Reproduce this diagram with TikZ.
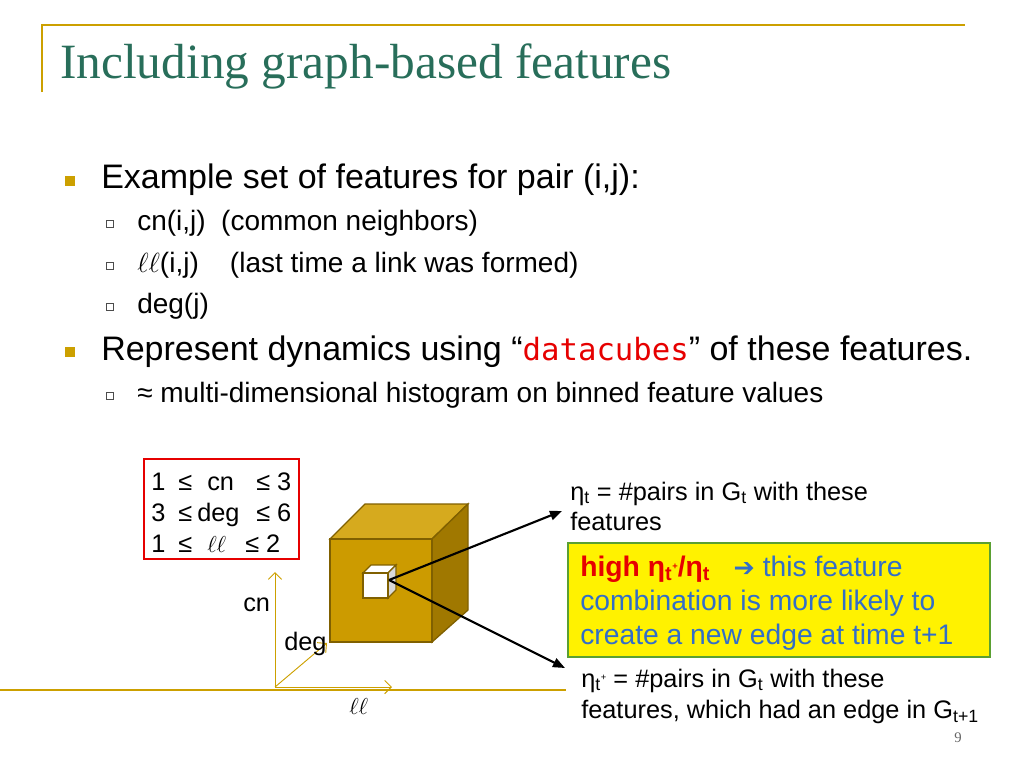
\documentclass[tikz,border=0pt]{standalone}
\usepackage{fontspec}
\setmainfont{Liberation Sans}
\newfontfamily\titlefont{Liberation Serif}
\newfontfamily\djv{DejaVu Sans}
\newfontfamily\dmono{DejaVu Sans Mono}
\usetikzlibrary{arrows.meta}
\definecolor{gold}{RGB}{204,160,0}
\definecolor{cubefront}{RGB}{204,155,0}
\definecolor{cubetop}{RGB}{214,170,30}
\definecolor{cubeside}{RGB}{160,120,0}
\definecolor{titlecol}{RGB}{40,110,90}
\definecolor{boxgreen}{RGB}{90,160,50}
\definecolor{dred}{RGB}{230,0,0}
\definecolor{bluetext}{RGB}{50,110,200}
\newcommand{\mysup}[1]{\raisebox{0.45ex}{\scriptsize #1}}
\begin{document}
\begin{tikzpicture}[x=0.75pt,y=-0.75pt,
  t/.style={anchor=base west,inner sep=0pt},
  main/.style={t,font=\fontsize{25.5}{30}\selectfont},
  sub/.style={t,font=\fontsize{21}{25}\selectfont},
  lbl/.style={t,font=\fontsize{19}{22}\selectfont},
  gb/.style={t,font=\fontsize{21.2}{25}\selectfont},
  bul/.style={fill=gold,minimum size=7pt,inner sep=0pt},
  sbul/.style={draw=black!70,line width=0.5pt,minimum size=5pt,inner sep=0pt,fill=white},
  ax/.style={gold,line width=0.7pt,-{Straight Barb[length=5pt]}},
  arr/.style={line width=1.6pt,-{Triangle[length=9pt,width=7pt]}}]
\useasboundingbox (0,0) rectangle (1024,768);
\draw[gold,line width=1pt] (42,92) -- (42,25) -- (965,25);
\node[t,text=titlecol,font=\titlefont\fontsize{37}{40}\selectfont] (title) at (60,78) {Including graph-based features};
% bullets
\node[bul] (b1) at (70,181) {};
\node[main] (l1) at (101,188) {Example set of features for pair (i,j):};
\node[sbul] (s1) at (110,224) {};
\node[sub] (l2) at (137,230) {cn(i,j)\ \ (common neighbors)};
\node[sbul] (s2) at (110,266) {};
\node[sub] (l3) at (137,272) {$\ell\ell$(i,j)\ \ \ \ (last time a link was formed)};
\node[sbul] (s3) at (110,307) {};
\node[sub] (l4) at (137,313) {deg(j)};
\node[bul] (b2) at (70,352) {};
\node[main] (l5) at (101,360) {Represent dynamics using \textquotedblleft{\dmono\fontsize{23}{28}\selectfont\color{dred}datacubes}\textquotedblright\ of these features.};
\node[sbul] (s4) at (110,396) {};
\node[sub] (l6) at (137,402) {≈ multi-dimensional histogram on binned feature values};
% red box
\draw[dred,line width=1.2pt] (144,459) rectangle (299,559);
\foreach \y/\a in {490/1, 521/3, 552/1}{
  \node[lbl] at (151,\y) {\a};
  \node[lbl] at (178,\y) {≤};
}
\node[lbl] (r1) at (207,490) {cn};
\node[lbl] (r2) at (197,521) {deg};
\node[lbl] (r3) at (207,552) {$\ell\ell$};
\node[lbl] (r1b) at (256,490) {≤ 3};
\node[lbl] (r2b) at (256,521) {≤ 6};
\node[lbl] (r3b) at (245,552) {≤ 2};
% baseline
\draw[gold,line width=1pt] (0,690) -- (566,690);
% axes
\coordinate (o) at (275,687);
\coordinate (ycn) at (275,572);
\coordinate (xll) at (392,687);
\coordinate (zdeg) at (327,643);
\draw[ax] (o) -- (ycn);
\draw[ax] (o) -- (xll);
\draw[ax] (o) -- (zdeg);
\node[lbl] (cn) at (243,611) {cn};
\node[lbl] (deg) at (284,650) {deg};
\node[lbl] (ll) at (349,714) {$\ell\ell$};
% cube
\draw[cubeside!80!black,line width=1pt,fill=cubetop] (330,539) -- (365,504) -- (468,504) -- (432,539) -- cycle;
\draw[cubeside!80!black,line width=1pt,fill=cubeside] (432,539) -- (468,504) -- (468,610) -- (432,642) -- cycle;
\draw[cubeside!80!black,line width=1pt,fill=cubefront] (330,539) rectangle (432,642);
% small cube
\draw[cubeside!80!black,line width=1pt,fill=white] (363,573) -- (371,565) -- (396,565) -- (388,573) -- cycle;
\draw[cubeside!80!black,line width=1pt,fill=gray!30] (388,573) -- (396,565) -- (396,590) -- (388,598) -- cycle;
\draw[cubeside!80!black,line width=1pt,fill=white] (363,573) rectangle (388,598);
\coordinate (sc) at (389,580);
\coordinate (a1) at (562,511);
\coordinate (a2) at (565,668);
\draw[arr] (sc) -- (a1);
\draw[arr] (sc) -- (a2);
% right labels
\node[lbl] (n1) at (570,500) {η\textsubscript{t} = \#pairs in G\textsubscript{t} with these};
\node[lbl] (n1b) at (570,530) {features};
\draw[boxgreen,line width=1.5pt,fill=yellow] (568,543) rectangle (990,657);
\node[gb] (g1) at (580,576) {\textcolor{dred}{\textbf{high η\textsubscript{t}\mysup{+}/η\textsubscript{t}}}\ \ \ \textcolor{bluetext}{{\djv\bfseries\fontsize{19}{22}\selectfont ➔}\ this feature}};
\node[gb,text=bluetext] (g2) at (580,610) {combination is more likely to};
\node[gb,text=bluetext] (g3) at (580,644) {create a new edge at time t+1};
\node[lbl] (n2) at (581,687) {η\textsubscript{t}\mysup{+} = \#pairs in G\textsubscript{t} with these};
\node[lbl] (n2b) at (581,718) {features, which had an edge in G\textsubscript{t+1}};
\node[t,font=\titlefont\fontsize{11}{13}\selectfont,text=black!60] (pg) at (954,742) {9};
\end{tikzpicture}
\end{document}
